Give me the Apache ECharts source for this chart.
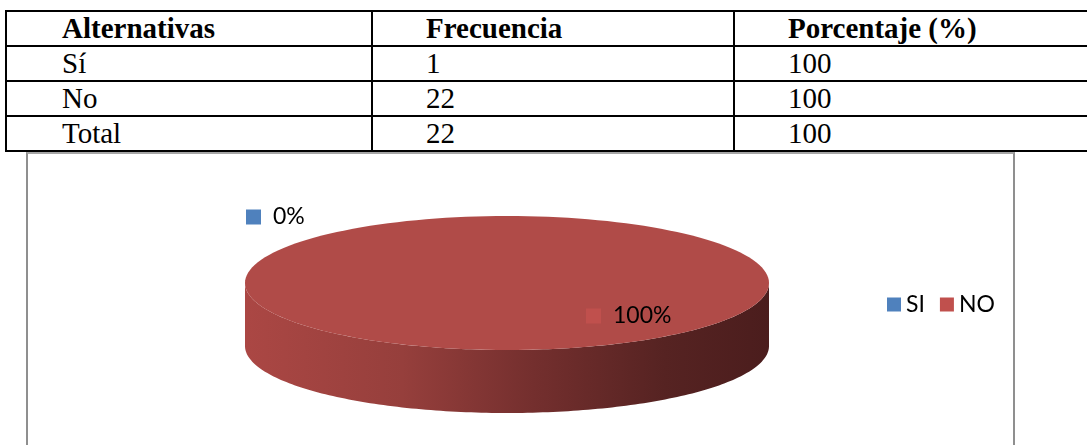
<!DOCTYPE html>
<html>
<head>
<meta charset="utf-8">
<script src="https://cdn.jsdelivr.net/npm/echarts@6/dist/echarts.min.js"></script>
<style>
  html, body { margin: 0; padding: 0; background: #fff; overflow: hidden; }
  body { width: 1087px; height: 445px; position: relative; }
  #tabla { position: absolute; left: 5px; top: 10px; width: 1200px; border-collapse: collapse;
           font-family: "Liberation Serif", "Times New Roman", serif; font-size: 29px; color: #000; }
  #tabla td { border: 2px solid #000; height: 33px; padding: 0 0 0 53px; line-height: 33px; white-space: nowrap; }
  #tabla td:first-child { padding-left: 55px; }
  #tabla tr.head td { font-weight: bold; }
  #marco { position: absolute; left: 26px; top: 152px; width: 985px; height: 400px;
           border: 2px solid #8f8f8f; border-top-color: #a6a6a6; border-bottom: none; }
  #grafico { position: absolute; left: 0; top: 0; width: 1087px; height: 445px; }
</style>
</head>
<body>
<table id="tabla"></table>
<div id="marco"></div>
<div id="grafico"></div>
<script>
// datos de la tabla
var tablaCabecera = ['Alternativas', 'Frecuencia', 'Porcentaje (%)'];
var tablaFilas = [
	['Sí', '1', '100'],
	['No', '22', '100'],
	['Total', '22', '100']
];
// datos del grafico
var categorias = ['SI', 'NO'];
var valores = [0, 100];
var colores = ['#4F81BD', '#C0504D'];

// tabla
var html = '<colgroup><col style="width:366px"><col style="width:362px"><col></colgroup>';
html += '<tr class="head">';
for (var i = 0; i < tablaCabecera.length; i++) {
	html += '<td>' + tablaCabecera[i] + '</td>';
}
html += '</tr>';
for (var r = 0; r < tablaFilas.length; r++) {
	html += '<tr>';
	for (var c = 0; c < tablaFilas[r].length; c++) {
		html += '<td>' + tablaFilas[r][c] + '</td>';
	}
	html += '</tr>';
}
document.getElementById('tabla').innerHTML = html;

// pastel 3D
var pie = { cx: 507, cy: 283, rx: 262, ry: 67, depth: 63 };
var etiquetaPos = [[-261, -66], [79, 33]];
var total = 0;
for (var k = 0; k < valores.length; k++) total += valores[k];

function angulos(idx) {
	var acc = 0;
	for (var j = 0; j < idx; j++) acc += valores[j];
	var a0 = acc / total * Math.PI * 2;
	var a1 = (acc + valores[idx]) / total * Math.PI * 2;
	return [a0, a1];
}

function punto(t, dy) {
	return [pie.cx + pie.rx * Math.sin(t), pie.cy - pie.ry * Math.cos(t) + (dy || 0)];
}

var ladoGrad = {
	type: 'linear', x: pie.cx - pie.rx, y: 0, x2: pie.cx + pie.rx, y2: 0, global: true,
	colorStops: [
		{ offset: 0, color: '#AB4744' },
		{ offset: 0.3, color: '#963F3C' },
		{ offset: 0.55, color: '#742F2E' },
		{ offset: 0.8, color: '#562322' },
		{ offset: 1, color: '#4B1D1D' }
	]
};

function renderItem(params, api) {
	var idx = params.seriesIndex;
	var a = angulos(idx);
	var hijos = [];
	var n = 160;
	if (a[1] - a[0] > 0) {
		// lado frontal
		var lo = Math.max(a[0], Math.PI / 2);
		var hi = Math.min(a[1], Math.PI * 3 / 2);
		if (hi > lo) {
			var lado = [];
			for (var s = 0; s <= n; s++) lado.push(punto(lo + (hi - lo) * s / n, 0));
			for (var s2 = n; s2 >= 0; s2--) lado.push(punto(lo + (hi - lo) * s2 / n, pie.depth));
			hijos.push({ type: 'polygon', shape: { points: lado }, style: { fill: ladoGrad }, z2: 1 });
		}
		// cara superior
		var cara = [];
		var completo = a[1] - a[0] >= Math.PI * 2 - 1e-6;
		if (!completo) cara.push([pie.cx, pie.cy]);
		for (var s3 = 0; s3 <= n; s3++) cara.push(punto(a[0] + (a[1] - a[0]) * s3 / n, 0));
		hijos.push({ type: 'polygon', shape: { points: cara }, style: { fill: '#B04B48' }, z2: 2 });
	}
	// etiqueta
	var pct = Math.round(valores[idx] / total * 100) + '%';
	hijos.push({
		type: 'text',
		x: pie.cx + etiquetaPos[idx][0],
		y: pie.cy + etiquetaPos[idx][1],
		z2: 5,
		style: {
			text: '{sq|}{v|' + pct + '}',
			verticalAlign: 'middle',
			align: 'left',
			rich: {
				sq: { width: 15, height: 15, backgroundColor: colores[idx] },
				v: { fontFamily: 'Lato', fontSize: 23, fill: '#000', padding: [0, 0, 0, 12] }
			}
		}
	});
	return { type: 'group', children: hijos };
}

var series = [];
for (var m = 0; m < categorias.length; m++) {
	series.push({
		name: categorias[m],
		type: 'custom',
		coordinateSystem: 'none',
		renderItem: renderItem,
		itemStyle: { color: colores[m] },
		data: [[valores[m]]],
		silent: true
	});
}

var myChart = echarts.init(document.getElementById('grafico'));
var option = {
	animation: false,
	legend: {
		data: categorias,
		left: 882,
		top: 288,
		icon: 'rect',
		itemWidth: 14,
		itemHeight: 14,
		itemGap: 15,
		selectedMode: false,
		textStyle: { fontFamily: 'Lato', fontSize: 23, color: '#000' }
	},
	series: series
};
myChart.setOption(option);
</script>
</body>
</html>
